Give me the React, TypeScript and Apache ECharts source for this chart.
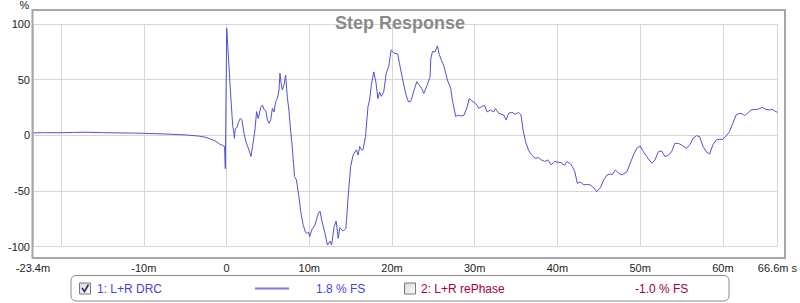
import React, { useEffect, useRef } from 'react';
import * as echarts from 'echarts';

// time in ms
const times = [
  -23.4, -22, -20, -18.5, -17, -15, -13, -11, -9, -7, -5, -3.4, -2.5, -1.84, -1.3, -0.84, -0.5, -0.24, -0.15, 0.02,
  0.15, 0.35, 0.55, 0.75, 0.85, 0.95, 1.05, 1.25, 1.45, 1.67, 1.85, 2.15, 2.35, 2.55, 2.75, 2.95, 3.15, 3.43, 3.63, 3.83,
  4.15, 4.35, 4.55, 4.75, 4.94, 5.14, 5.34, 5.54, 5.74, 5.94, 6.14, 6.34, 6.46, 6.6, 6.74, 6.94, 7.14, 7.34, 7.54, 7.74,
  7.94, 8.22, 8.45, 8.74, 9.0, 9.25, 9.53, 9.75, 9.93, 10.05, 10.3, 10.7, 10.9, 11.1, 11.3, 11.5, 11.9, 12.2, 12.5, 12.7,
  13.0, 13.25, 13.5, 13.7, 14.1, 14.43, 14.7, 15.0, 15.3, 15.7, 15.9, 16.1, 16.3, 16.5, 16.8, 17.1, 17.3, 17.5, 17.8, 18.05,
  18.3, 18.5, 18.7, 19.0, 19.3, 19.6, 19.9, 20.1, 20.3, 20.7, 20.9, 21.3, 21.7, 22.0, 22.3, 22.6, 23.0, 23.3, 23.6, 23.85,
  24.25, 24.6, 24.7, 24.9, 25.2, 25.5, 25.7, 26.0, 26.3, 26.7, 27.1, 27.3, 27.7, 27.9, 28.3, 28.7, 29.1, 29.35, 29.65, 30.1,
  30.5, 30.9, 31.2, 31.5, 31.9, 32.3, 32.5, 32.9, 33.5, 33.8, 34.1, 34.5, 34.9, 35.3, 35.6, 35.85, 36.15, 36.5, 36.9, 37.3,
  37.7, 38.05, 38.45, 38.85, 39.25, 39.65, 40.05, 40.45, 40.85, 41.15, 41.55, 41.8, 42.1, 42.4, 42.8, 43.2, 43.6, 44.0, 44.45, 44.75,
  45.2, 45.6, 46.0, 46.4, 46.6, 47.0, 47.4, 47.8, 48.4, 48.8, 49.2, 49.6, 50.0, 50.4, 50.8, 51.4, 51.8, 52.2, 52.6, 53.0,
  53.4, 53.8, 54.2, 54.6, 55.0, 55.6, 56.0, 56.4, 56.8, 57.2, 57.6, 58.0, 58.4, 58.8, 59.2, 59.6, 60.0, 60.4, 60.8, 61.2,
  61.6, 62.0, 62.4, 62.6, 63.0, 63.4, 63.8, 64.2, 64.8, 65.2, 65.6, 66.0, 66.4, 66.6,
];

// step response, % FS
const values = [
  2.2, 2.4, 2.3, 2.6, 2.8, 2.4, 2.2, 2.0, 1.6, 1.1, 0.4, -0.6, -1.8, -3.6, -5.3, -7.8, -9.0, -10, -30, 96,
  80, 55, 30, 8, 4, -2.7, 6, 7, 12, 15.3, 14, 0.3, -6, -10, -14, -19, -10, 4.8, 21.3, 15,
  25.8, 27, 23, 22, 13.8, 10.8, 14, 24.3, 21, 30.3, 33, 40.7, 55.7, 46.7, 40.7, 45, 54.2, 34.7, 22.7, 4.8,
  -10, -37, -40, -55, -70, -80, -87, -88, -87, -91, -85, -80.5, -75, -70, -68, -76, -88, -98.5, -95, -98.5,
  -82, -77, -92.5, -83, -86, -83.5, -55, -28, -17.7, -13, -17.7, -10, -13, -13, -1, 25.8, 32, 45, 57, 48,
  33, 39, 35, 39, 55.7, 61.7, 76.7, 75, 73.7, 73, 64.7, 49.7, 36.2, 30, 31, 39, 48.2, 45, 42, 37.7,
  45, 52.7, 69.2, 75.2, 75, 80.3, 73, 67, 61.7, 49.7, 42.2, 31.7, 16.8, 18, 17.5, 18, 25.8, 33.2, 31, 28.7,
  24.3, 26, 27, 21, 22.7, 21, 24, 19.8, 18.3, 13.8, 19.8, 20.7, 19, 20.7, 18.3, 4.8, -5.7, -13.2, -17.7, -20.6,
  -20, -22, -23.5, -22, -26.5, -23.5, -24, -24.5, -27, -23.5, -25.5, -28, -32.5, -43, -42, -44.5, -44, -44.6, -47.6, -50.6,
  -47, -40, -35.6, -34.5, -35.6, -31, -34, -35.6, -32.7, -25, -17.6, -11.7, -9.6, -14.7, -19, -25, -22, -14.7, -14, -19,
  -18, -14.7, -7.2, -7.2, -8.5, -11.7, -8.5, -2.7, -0.3, -1.2, -10, -14.7, -16.8, -8.5, -4.2, -3.6, -3.6, -0.5, 3.3, 10.8,
  18.3, 19.8, 19.2, 17.7, 19.8, 22.8, 23.3, 23.3, 25.2, 23.3, 22.8, 23.3, 21.3, 20.8,
];

const xMin = -23.4;
const xMax = 66.6;
const yMin = -100;
const yMax = 100;
const yStep = 50;

const titleText = 'Step Response';
const yUnit = '%';
const legendNames = ['1: L+R DRC', '2: L+R rePhase'];
const legendValues = ['1.8 % FS', '-1.0 % FS'];

const FONT = '"Liberation Sans", Arial, sans-serif';

export default function App() {
  const ref = useRef<HTMLDivElement>(null);
  useEffect(() => {
    document.body.style.margin = '0';
    const chart = echarts.init(ref.current!, undefined, { renderer: 'svg' });
    const data = times.map((t, i) => [t, values[i]]);
    const blue = '#4b3fe0';
    const maroon = '#a3003f';
    chart.setOption({
      animation: false,
      textStyle: { fontFamily: FONT },
      title: {
        text: titleText,
        left: 'center',
        top: 9,
        textStyle: { fontSize: 18, fontWeight: 'bold', color: '#8a8a8a', fontFamily: FONT },
      },
      grid: { left: 33, right: 15, top: 24, bottom: 56.3, containLabel: false },
      xAxis: {
        type: 'value',
        min: xMin,
        max: xMax,
        splitNumber: 9,
        axisLine: { show: false },
        axisTick: { show: false },
        splitLine: { show: true, lineStyle: { color: '#d6d6d6', width: 1 } },
        axisLabel: {
          margin: 16,
          fontSize: 11,
          color: '#222',
          fontFamily: FONT,
          showMinLabel: true,
          showMaxLabel: true,
          hideOverlap: false,
          formatter: (v: number) => {
            if (Math.abs(v - xMax) < 1e-6) return '66.6m s';
            if (Math.abs(v - xMin) < 1e-6) return '-23.4m';
            if (Math.abs(v + 20) < 1e-6) return '';
            if (v === 0) return '0';
            return v + 'm';
          },
        },
      },
      yAxis: {
        type: 'value',
        min: yMin,
        max: yMax,
        interval: yStep,
        axisLine: { show: false },
        axisTick: { show: false },
        splitLine: { show: true, lineStyle: { color: '#d6d6d6', width: 1 } },
        axisLabel: { margin: 3, fontSize: 11, color: '#222', fontFamily: FONT },
      },
      series: [
        {
          type: 'line',
          data,
          showSymbol: false,
          symbol: 'none',
          clip: false,
          lineStyle: { color: '#5252d0', width: 1 },
        },
      ],
      graphic: [
        {
          type: 'rect',
          shape: { x: 32.5, y: 10, width: 752.5, height: 248 },
          style: { fill: 'none', stroke: '#a6a6a6', lineWidth: 2 },
          z: 100,
        },
        {
          type: 'text',
          x: 24.5,
          y: 5,
          style: { text: yUnit, fontSize: 11, fill: '#222', textAlign: 'center', textVerticalAlign: 'middle', fontFamily: FONT },
        },
        {
          type: 'rect',
          shape: { x: 71, y: 275.5, width: 658, height: 25.5, r: 5 },
          style: { fill: '#fff', stroke: '#8a8a8a', lineWidth: 1 },
        },
        {
          type: 'rect',
          shape: { x: 79.5, y: 283, width: 11, height: 11 },
          style: {
            fill: new echarts.graphic.LinearGradient(0, 0, 1, 1, [
              { offset: 0, color: '#d8d8d8' },
              { offset: 1, color: '#ffffff' },
            ]),
            stroke: '#7a7a7a',
            lineWidth: 1,
          },
        },
        {
          type: 'polyline',
          shape: { points: [[82, 288], [84.5, 291.5], [88.5, 284.5]] },
          style: { stroke: '#22366e', lineWidth: 1.6, fill: 'none' },
        },
        {
          type: 'text',
          x: 97,
          y: 288.5,
          style: { text: legendNames[0], fontSize: 12, fill: blue, textVerticalAlign: 'middle', fontFamily: FONT },
        },
        {
          type: 'line',
          shape: { x1: 255, y1: 288.5, x2: 289, y2: 288.5 },
          style: { stroke: '#7c7cdc', lineWidth: 2 },
        },
        {
          type: 'text',
          x: 316,
          y: 288.5,
          style: { text: legendValues[0], fontSize: 12, fill: blue, textVerticalAlign: 'middle', fontFamily: FONT },
        },
        {
          type: 'rect',
          shape: { x: 404.5, y: 283, width: 11, height: 11 },
          style: {
            fill: new echarts.graphic.LinearGradient(0, 0, 1, 1, [
              { offset: 0, color: '#d8d8d8' },
              { offset: 1, color: '#ffffff' },
            ]),
            stroke: '#7a7a7a',
            lineWidth: 1,
          },
        },
        {
          type: 'text',
          x: 421,
          y: 288.5,
          style: { text: legendNames[1], fontSize: 12, fill: maroon, textVerticalAlign: 'middle', fontFamily: FONT },
        },
        {
          type: 'text',
          x: 635,
          y: 288.5,
          style: { text: legendValues[1], fontSize: 12, fill: maroon, textVerticalAlign: 'middle', fontFamily: FONT },
        },
      ],
    });
    return () => chart.dispose();
  }, []);
  return <div ref={ref} style={{ width: 800, height: 303 }} />;
}
